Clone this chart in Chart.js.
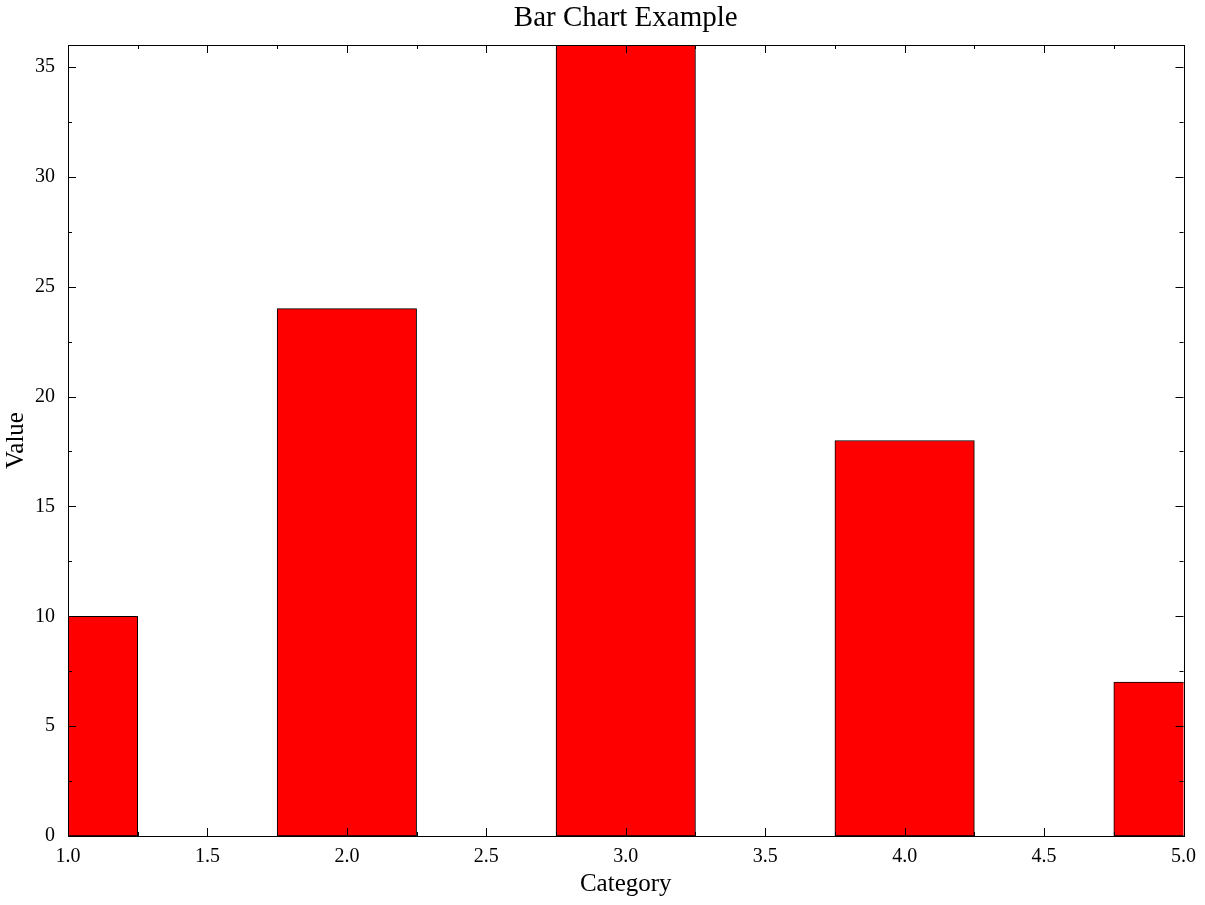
<!DOCTYPE html>
<html>
<head>
<meta charset="utf-8">
<title>Bar Chart Example</title>
<script src="https://cdn.jsdelivr.net/npm/chart.js@4.4.1/dist/chart.umd.min.js"></script>
<style>
  html, body { margin: 0; padding: 0; background: #fff; }
  canvas { display: block; }
</style>
</head>
<body>
<canvas id="barChart" width="1205" height="905"></canvas>
<script>
// DATA
const categories = [1, 2, 3, 4, 5];
const values = [10, 24, 36, 18, 7];
const xTicks = [1.0, 1.5, 2.0, 2.5, 3.0, 3.5, 4.0, 4.5, 5.0];
const yTicks = [0, 5, 10, 15, 20, 25, 30, 35];

const FONT = "'Liberation Serif', 'Times New Roman', serif";

// frame + inward ticks (mirrored on top and right), minor tick halfway between majors
const frameTicks = {
  id: 'frameTicks',
  afterDatasetsDraw(chart) {
    const { ctx, chartArea: a, scales: { x, y } } = chart;
    const major = 8, minor = 4;
    ctx.save();
    ctx.strokeStyle = '#000';
    ctx.lineWidth = 1;
    ctx.beginPath();

    const xHalf = (xTicks[1] - xTicks[0]) / 2;
    for (let i = 0, v = x.min; v <= x.max + 1e-9; i++, v = x.min + i * xHalf) {
      const px = Math.round(x.getPixelForValue(v)) + 0.5;
      const len = i % 2 === 0 ? major : minor;
      ctx.moveTo(px, a.bottom); ctx.lineTo(px, a.bottom - len);
      ctx.moveTo(px, a.top); ctx.lineTo(px, a.top + len);
    }

    const yHalf = (yTicks[1] - yTicks[0]) / 2;
    for (let i = 0, v = y.min; v <= y.max + 1e-9; i++, v = y.min + i * yHalf) {
      const py = Math.round(y.getPixelForValue(v)) + 0.5;
      const len = i % 2 === 0 ? major : minor;
      ctx.moveTo(a.left, py); ctx.lineTo(a.left + len, py);
      ctx.moveTo(a.right, py); ctx.lineTo(a.right - len, py);
    }
    ctx.stroke();

    ctx.strokeRect(Math.round(a.left) + 0.5, Math.round(a.top) + 0.5,
      Math.round(a.right - a.left), Math.round(a.bottom - a.top));
    ctx.restore();
  }
};

new Chart(document.getElementById('barChart'), {
  type: 'bar',
  data: {
    datasets: [{
      label: 'Value',
      data: categories.map((c, i) => ({ x: c, y: values[i] })),
      backgroundColor: '#ff0000',
      borderColor: '#000000',
      borderWidth: 1,
      borderSkipped: false,
      barPercentage: 1,      // ruler spacing is the 0.5 tick step -> bar is 0.5 wide
      categoryPercentage: 1,
      clip: 0
    }]
  },
  options: {
    responsive: false,
    animation: false,
    layout: { padding: { left: 0, right: 20, top: 0, bottom: 0 } },
    plugins: {
      legend: { display: false },
      tooltip: { enabled: false },
      title: {
        display: true,
        fullSize: false,
        text: 'Bar Chart Example',
        color: '#000',
        font: { family: FONT, size: 29, weight: 'normal' },
        padding: { top: 1, bottom: 9.2 }
      }
    },
    scales: {
      x: {
        type: 'linear',
        min: 1,
        max: 5,
        offset: false,
        grid: { display: false, drawTicks: false, offset: false },
        border: { display: false },
        afterBuildTicks: s => { s.ticks = xTicks.map(v => ({ value: v })); },
        afterFit: s => { s.height = 69; },
        ticks: {
          color: '#000',
          font: { family: FONT, size: 20 },
          padding: 9,
          maxRotation: 0,
          autoSkip: false,
          callback: v => Number(v).toFixed(1)
        },
        title: {
          display: true,
          text: 'Category',
          color: '#000',
          font: { family: FONT, size: 25 },
          padding: { top: 0, bottom: 6 }
        }
      },
      y: {
        min: 0,
        max: 36,
        grid: { display: false, drawTicks: false },
        border: { display: false },
        afterBuildTicks: s => { s.ticks = yTicks.map(v => ({ value: v })); },
        afterFit: s => { s.width = 68; },
        ticks: {
          color: '#000',
          font: { family: FONT, size: 20 },
          padding: 13,
          autoSkip: false,
          callback: v => String(v)
        },
        title: {
          display: true,
          text: 'Value',
          color: '#000',
          font: { family: FONT, size: 25 },
          padding: { top: 1, bottom: 0 }
        }
      }
    }
  },
  plugins: [frameTicks]
});
</script>
</body>
</html>
